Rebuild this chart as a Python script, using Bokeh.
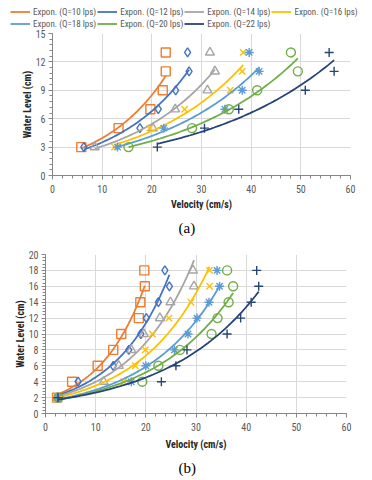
import numpy as np
from bokeh.plotting import figure
from bokeh.models import Legend, LegendItem, SingleIntervalTicker, Title, Range1d
from bokeh.layouts import column, row
from bokeh.embed import file_html
from bokeh.resources import INLINE

series_names = ["Expon. (Q=10 lps)", "Expon. (Q=12 lps)", "Expon. (Q=14 lps)",
                "Expon. (Q=16 lps)", "Expon. (Q=18 lps)", "Expon. (Q=20 lps)",
                "Expon. (Q=22 lps)"]
colors = ["#ED7D31", "#4472C4", "#A5A5A5", "#FFC000", "#5B9BD5", "#70AD47", "#264478"]
markers = ["square", "diamond", "triangle", "x", "asterisk", "circle", "cross"]

# Chart (a): water level (cm) vs velocity (cm/s)
a_levels = [3, 5, 7, 9, 11, 13]
a_q10 = [5.8, 13.3, 19.7, 22.2, 22.8, 22.8]
a_q12 = [6.3, 17.6, 21.3, 24.8, 27.5, 27.2]
a_q14 = [8.5, 20.2, 24.7, 31.2, 32.7, 31.7]
a_q16 = [12.5, 19.6, 26.6, 35.8, 38.2, 38.4]
a_q18 = [13.1, 22.4, 34.7, 38.2, 41.6, 39.6]
a_q20 = [15.3, 28.1, 35.5, 41.2, 49.4, 48.0]
a_q22 = [21.1, 30.6, 37.5, 50.9, 56.7, 55.7]

# Chart (b)
b_levels = [2, 4, 6, 8, 10, 12, 14, 16, 18]
b_q10 = [2.3, 5.3, 10.4, 13.5, 15.1, 18.6, 18.9, 19.8, 19.7]
b_q12 = [2.3, 6.5, 13.5, 16.6, 19.0, 20.1, 22.5, 24.7, 23.8]
b_q14 = [2.4, 11.6, 14.6, 17.1, 19.6, 22.8, 24.9, 29.6, 29.4]
b_q16 = [2.3, 15.6, 17.9, 19.9, 21.3, 24.6, 29.0, 32.7, 32.7]
b_q18 = [2.4, 17.1, 20.0, 25.7, 28.4, 30.2, 32.6, 34.7, 34.2]
b_q20 = [2.6, 19.3, 22.5, 26.8, 33.1, 34.3, 36.5, 37.4, 36.2]
b_q22 = [2.5, 23.1, 26.0, 28.2, 36.2, 38.9, 41.0, 42.5, 42.1]

a_series = [a_q10, a_q12, a_q14, a_q16, a_q18, a_q20, a_q22]
b_series = [b_q10, b_q12, b_q14, b_q16, b_q18, b_q20, b_q22]

FONT = "'Liberation Sans Narrow', 'Roboto Condensed', 'Open Sans'"
TXT = "#595959"
W = 366


def make_fig(levels, series, ymax, ystep, height, left, right, top, bottom,
             tag, tag_offset, xlabel_standoff):
    p = figure(width=W, height=height, output_backend="svg", toolbar_location=None,
               x_range=Range1d(0, 60), y_range=Range1d(0, ymax),
               min_border_left=left, min_border_right=right,
               min_border_top=top, min_border_bottom=bottom)
    p.outline_line_color = None
    p.xaxis.ticker = SingleIntervalTicker(interval=10, num_minor_ticks=5)
    p.yaxis.ticker = SingleIntervalTicker(interval=ystep, num_minor_ticks=5)
    p.xgrid.ticker = SingleIntervalTicker(interval=10)
    p.ygrid.ticker = SingleIntervalTicker(interval=ystep)
    for g in (p.xgrid, p.ygrid):
        g.grid_line_color = "#d9d9d9"
        g.grid_line_width = 1
    for ax in (p.xaxis, p.yaxis):
        ax.axis_line_color = "#868686"
        ax.major_tick_line_color = "#868686"
        ax.minor_tick_line_color = "#868686"
        ax.major_tick_out = 4
        ax.major_tick_in = 0
        ax.minor_tick_out = 3
        ax.minor_tick_in = 0
        ax.major_label_text_font = FONT
        ax.major_label_text_font_size = "10px"
        ax.major_label_text_color = TXT
        ax.axis_label_text_font = FONT
        ax.axis_label_text_font_size = "10px"
        ax.axis_label_text_font_style = "bold"
        ax.axis_label_text_color = "#262626"
    p.xaxis.axis_label = "Velocity (cm/s)"
    p.yaxis.axis_label = "Water Level (cm)"
    p.xaxis.axis_label_standoff = xlabel_standoff
    p.yaxis.axis_label_standoff = 0
    p.xaxis.major_label_standoff = 5
    p.yaxis.major_label_standoff = 3

    renderers = []
    for xs, c, m in zip(series, colors, markers):
        xa = np.array(xs, dtype=float)
        ya = np.array(levels, dtype=float)
        b, lna = np.polyfit(xa, np.log(ya), 1)
        xf = np.linspace(xa.min(), xa.max(), 60)
        yf = np.exp(lna + b * xf)
        r = p.line(xf, yf, line_color=c, line_width=1.8)
        renderers.append(r)
        p.scatter(xs, levels, marker=m, size=9, fill_color=None, line_color=c, line_width=1.4)

    p.add_layout(Title(text=tag, align="left", offset=tag_offset,
                       text_font="'Liberation Serif', 'DejaVu Serif', serif",
                       text_font_size="15px", text_font_style="normal",
                       text_color="#000000"), "below")
    return p, renderers


# Legend strip (its own small figure so nothing clips it)
p0 = figure(width=W, height=29, output_backend="svg", toolbar_location=None,
            x_range=Range1d(0, 1), y_range=Range1d(0, 1),
            x_axis_type=None, y_axis_type=None,
            min_border_left=0, min_border_right=0, min_border_top=0, min_border_bottom=0)
p0.outline_line_color = None
p0.xgrid.visible = False
p0.ygrid.visible = False
# legend proxies: series data lies outside this strip's 0..1 ranges, so only the legend shows
proxies = [p0.line(xs, a_levels, line_color=c, line_width=1.8)
           for xs, c in zip(a_series, colors)]
items = [LegendItem(label=n, renderers=[r]) for n, r in zip(series_names, proxies)]
legend = Legend(items=items, location=(10, 0), orientation="horizontal", ncols=4,
                padding=0, margin=0, spacing=1, glyph_width=20, glyph_height=11,
                label_height=11, label_width=62, label_standoff=3,
                label_text_font=FONT, label_text_font_size="9px",
                label_text_color=TXT, border_line_color=None,
                background_fill_alpha=0)
p0.add_layout(legend, "center")

p1, _ = make_fig(a_levels, a_series, 15, 3, 211, 52, W - 350, 4, 64, "(a)", 126, 3)
p2, _ = make_fig(b_levels, b_series, 20, 2, 240, 45, W - 346, 14, 64, "(b)", 133, 5)

layout = column(row(p0), row(p1), row(p2), spacing=0)
open("out.html", "w").write(file_html(layout, INLINE))
